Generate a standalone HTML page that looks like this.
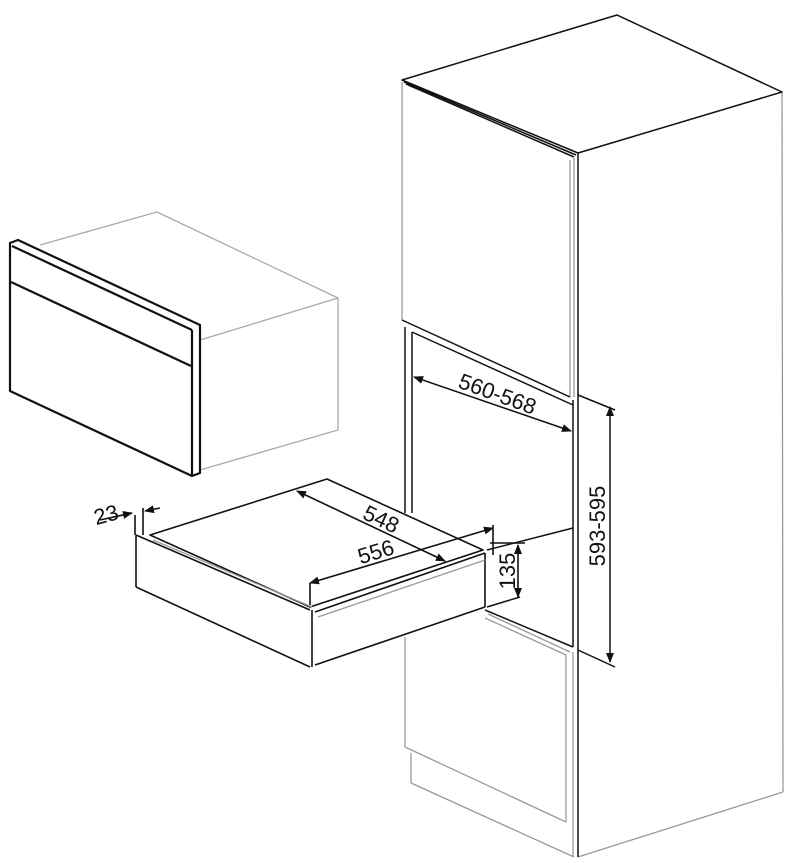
<!DOCTYPE html>
<html><head><style>html,body{margin:0;padding:0;background:#fff}svg{display:block}</style></head>
<body>
<svg width="800" height="863" viewBox="0 0 800 863" xmlns="http://www.w3.org/2000/svg" font-family="Liberation Sans, sans-serif">
<defs>
<marker id="a" markerWidth="10" markerHeight="8" refX="9" refY="4" orient="auto" markerUnits="userSpaceOnUse"><path d="M0,0 L10,4 L0,8 Z" fill="#111"/></marker>
<marker id="b" markerWidth="10" markerHeight="8" refX="1" refY="4" orient="auto" markerUnits="userSpaceOnUse"><path d="M10,0 L0,4 L10,8 Z" fill="#111"/></marker>
</defs>
<g fill="none" stroke-linejoin="round">
<g stroke="#999" stroke-width="1.3">
<line x1="402" y1="82" x2="402" y2="320"/>
<line x1="570" y1="160" x2="570" y2="397"/>
<line x1="574" y1="158" x2="574" y2="397"/>
<line x1="782" y1="92" x2="783" y2="792"/>
<line x1="783" y1="792" x2="578" y2="857"/>
<line x1="405" y1="637" x2="405" y2="747"/>
<line x1="405" y1="747" x2="566" y2="822"/>
<line x1="411" y1="753" x2="411" y2="783"/>
<line x1="411" y1="783" x2="574" y2="857"/>
<line x1="566" y1="655" x2="566" y2="822"/>
<line x1="573" y1="652" x2="573" y2="857"/>
<line x1="488" y1="614" x2="570" y2="652"/>
<line x1="485" y1="618" x2="566" y2="655"/>
</g>
<g stroke="#111" stroke-width="1.5">
<polygon points="402,80 617,15 782,92 578,153"/>
<line x1="406" y1="84" x2="574" y2="157"/>
<line x1="404" y1="82" x2="576" y2="155"/>
<line x1="578" y1="153" x2="578" y2="857"/>
<line x1="402" y1="320" x2="570" y2="397"/>
<line x1="405" y1="327" x2="405" y2="513"/>
<line x1="412" y1="332" x2="412" y2="513"/>
<line x1="412" y1="332" x2="573" y2="405"/>
<line x1="573" y1="400" x2="573" y2="647"/>
<line x1="487" y1="550" x2="573" y2="528"/>
<line x1="487" y1="607" x2="520" y2="597"/>
<line x1="485" y1="610" x2="573" y2="647"/>
<line x1="578" y1="395" x2="615" y2="410"/>
<line x1="578" y1="650" x2="615" y2="667"/>
<line x1="610" y1="407" x2="610" y2="662" marker-start="url(#b)" marker-end="url(#a)"/>
<line x1="414" y1="377" x2="571" y2="431" marker-start="url(#b)" marker-end="url(#a)"/>
</g>
<g stroke="#aaa" stroke-width="1.3">
<polyline points="40,245 157,212 338,298 200,340"/>
<polyline points="338,298 338,430 200,470"/>
</g>
<g stroke="#111" stroke-width="2.2">
<polygon points="10,243 18,240 200,325 200,473 192,476 10,391"/>
<line x1="12" y1="246" x2="192" y2="330"/>
<line x1="192" y1="330" x2="192" y2="476"/>
<line x1="11" y1="282" x2="191" y2="366"/>
</g>
<g stroke="#111" stroke-width="1.6">
<polygon points="150,535 327,479 483,550 310,607"/>
<line x1="136" y1="535" x2="310" y2="610"/>
<line x1="136" y1="535" x2="136" y2="587"/>
<line x1="136" y1="587" x2="310" y2="667"/>
<line x1="312" y1="610" x2="312" y2="667"/>
<line x1="315" y1="612" x2="485" y2="553"/>
<line x1="315" y1="665" x2="485" y2="607"/>
<line x1="485" y1="553" x2="485" y2="607"/>
<line x1="297" y1="491" x2="445" y2="561" marker-start="url(#b)" marker-end="url(#a)"/>
<line x1="310" y1="583" x2="493" y2="528" marker-start="url(#b)" marker-end="url(#a)"/>
<line x1="310" y1="583" x2="310" y2="605"/>
<line x1="493" y1="525" x2="493" y2="555"/>
<line x1="518" y1="545" x2="518" y2="597" marker-start="url(#b)" marker-end="url(#a)"/>
<line x1="490" y1="543" x2="525" y2="543"/>
<line x1="100" y1="520" x2="132" y2="513" marker-end="url(#a)"/>
<line x1="160" y1="508" x2="145" y2="511" marker-end="url(#a)"/>
<line x1="135" y1="515" x2="135" y2="535"/>
<line x1="143" y1="508" x2="143" y2="535"/>
</g>
<g stroke="#999" stroke-width="1.3">
<line x1="153" y1="540" x2="312" y2="607"/>
<line x1="318" y1="617" x2="485" y2="560"/>
</g>
</g>
<g fill="#111" font-size="22">
<text x="0" y="0" transform="translate(495,401) rotate(20)" text-anchor="middle">560-568</text>
<text x="0" y="0" transform="translate(605,526) rotate(-90)" text-anchor="middle">593-595</text>
<text x="0" y="0" transform="translate(378,526) rotate(25)" text-anchor="middle">548</text>
<text x="0" y="0" transform="translate(378,559) rotate(-17)" text-anchor="middle">556</text>
<text x="0" y="0" transform="translate(515,571) rotate(-90)" text-anchor="middle">135</text>
<text x="0" y="0" transform="translate(108,522) rotate(-15)" text-anchor="middle">23</text>
</g>
</svg>
</body></html>
